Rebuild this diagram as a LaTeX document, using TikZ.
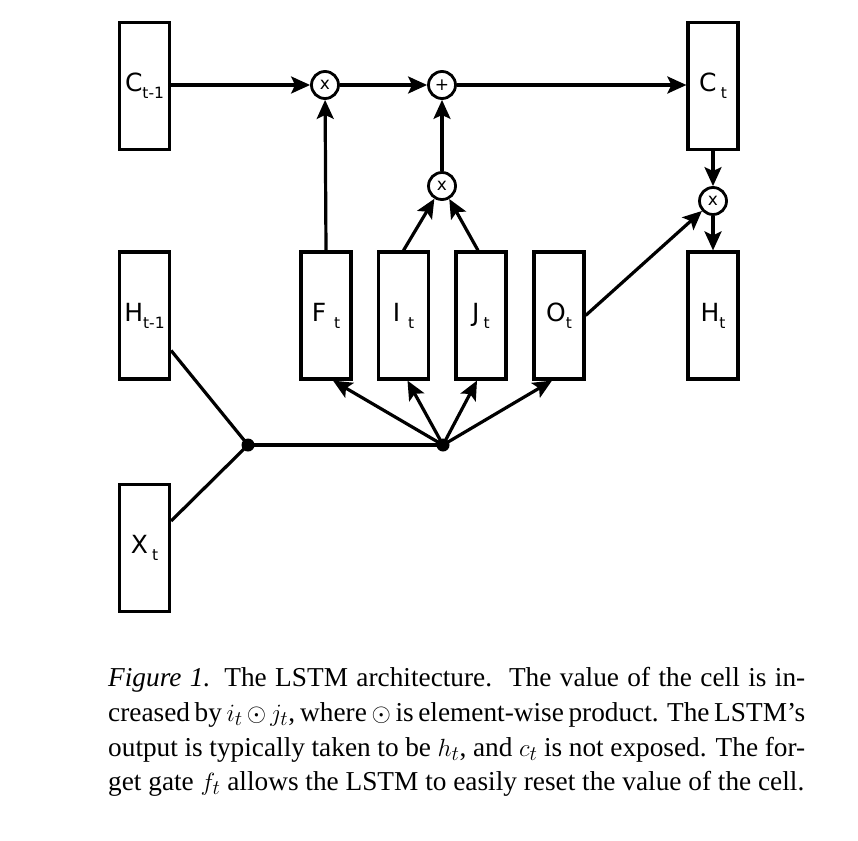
\documentclass[tikz,border=0pt]{standalone}
\usepackage{fontspec}
\setmainfont{Liberation Serif}
\newfontfamily\boxfont{DejaVu Sans}
\usetikzlibrary{arrows.meta}
\newcommand\blbl[2]{{\boxfont\fontsize{25}{25}\selectfont #1\raisebox{-7pt}{\fontsize{15.5}{15.5}\selectfont #2}}}
\begin{document}
\begin{tikzpicture}[x=1pt,y=-1pt,
  cellbox/.style={draw, line width=3.2pt, minimum width=50pt, minimum height=127pt, inner sep=0pt},
  opcirc/.style={draw, circle, line width=2.8pt, minimum size=27pt, inner sep=0pt, font=\boxfont\fontsize{17}{17}\selectfont},
  junction/.style={circle, fill, minimum size=13pt, inner sep=0pt},
  conn/.style={line width=3.2pt},
  arr/.style={conn, -{Stealth[length=19pt,width=17pt,inset=4pt]}},
  capline/.style={anchor=base west, inner sep=0pt, font=\fontsize{27.3}{34}\selectfont}
]
\useasboundingbox (0,0) rectangle (858,840);

% boxes
\node[cellbox] (ctm) at (144.5,86) {\blbl{C}{t-1}};
\node[cellbox] (htm) at (144.5,315.5) {\blbl{H}{t-1}};
\node[cellbox] (xt)  at (144.5,548) {\blbl{X\,}{t}};
\node[cellbox] (ft)  at (326,315.5) {\blbl{F\ }{t}};
\node[cellbox] (it)  at (403.5,315.5) {\blbl{I\ }{t}};
\node[cellbox] (jt)  at (481,315.5) {\blbl{J\,}{t}};
\node[cellbox] (ot)  at (559,315.5) {\blbl{O}{t}};
\node[cellbox] (ct)  at (713,86) {\blbl{C\,}{t}};
\node[cellbox] (ht)  at (713,315.5) {\blbl{H}{t}};

% operators
\node[opcirc] (m1) at (325,85) {x};
\node[opcirc] (p1) at (442,85) {+};
\node[opcirc] (m2) at (442,186) {x};
\node[opcirc] (m3) at (713,201) {x};

% junctions
\node[junction] (d1) at (248,445) {};
\node[junction] (d2) at (443,445) {};

% top line
\draw[arr] (ctm.east |- m1) -- (m1);
\draw[arr] (m1) -- (p1);
\draw[arr] (p1) -- (ct.west |- p1);
\draw[arr] (ft.north) -- (m1);
\draw[arr] (m2) -- (p1);
\draw[arr] (it.north) -- (m2);
\draw[arr] ([xshift=-3pt]jt.north) -- (m2);
\draw[arr] (ct.south) -- (m3);
\draw[arr] (m3) -- (ht.north);
\draw[arr] (ot.east) -- (m3);

% inputs
\draw[conn] ([yshift=-35pt]htm.east) -- (d1.center);
\draw[conn] ([yshift=27pt]xt.east) -- (d1.center);
\draw[conn] (d1.center) -- (d2.center);
\draw[arr] (d2.center) -- ([xshift=7pt]ft.south);
\draw[arr] (d2.center) -- ([xshift=4pt]it.south);
\draw[arr] (d2.center) -- ([xshift=-4pt]jt.south);
\draw[arr] (d2.center) -- ([xshift=-7pt]ot.south);

% caption
\node[capline] (cap1) at (108,686) {\makebox[697pt][s]{\textit{Figure 1.} The LSTM architecture.\ \ The value of the cell is in-}};
\node[capline] (cap2) at (108,721) {\makebox[697pt][s]{creased by $i_t\,{\odot}\,j_t$, where $\odot$ is element-wise product. The LSTM’s}};
\node[capline] (cap3) at (108,756) {\makebox[697pt][s]{output is typically taken to be $h_t$, and $c_t$ is not exposed. The for-}};
\node[capline] (cap4) at (108,790) {get gate $f_t$ allows the LSTM to easily reset the value of the cell.};
\end{tikzpicture}
\end{document}
